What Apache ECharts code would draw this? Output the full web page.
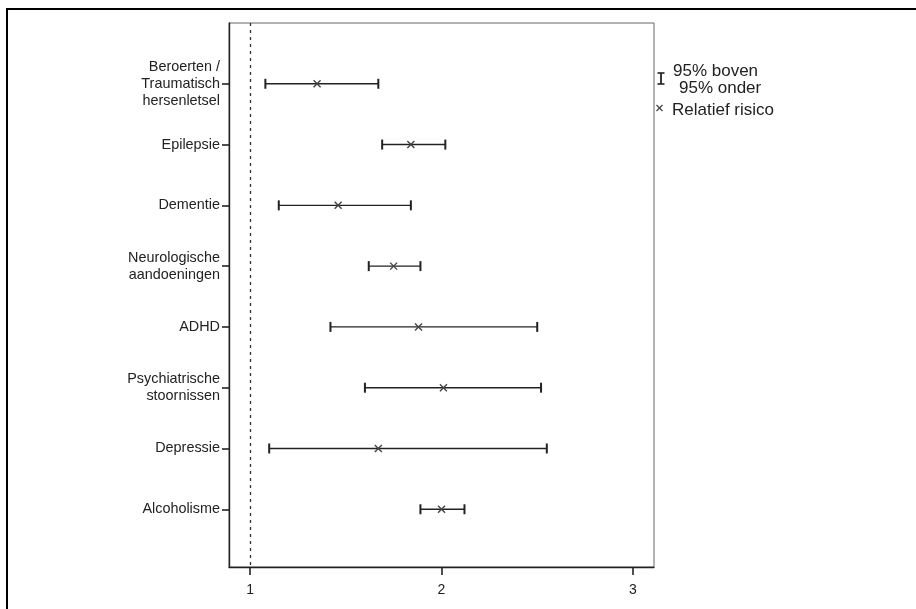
<!DOCTYPE html>
<html>
<head>
<meta charset="utf-8">
<script src="https://cdn.jsdelivr.net/npm/echarts@6/dist/echarts.min.js"></script>
<style>
  html, body { margin: 0; padding: 0; background: #fff; }
  #chart { width: 916px; height: 609px; }
</style>
</head>
<body>
<div id="chart"></div>
<script>
// aandoeningen (van boven naar beneden)
var categories = [
    'Beroerten /\nTraumatisch\nhersenletsel',
    'Epilepsie',
    'Dementie',
    'Neurologische\naandoeningen',
    'ADHD',
    'Psychiatrische\nstoornissen',
    'Depressie',
    'Alcoholisme'
];
// relatief risico en 95% betrouwbaarheidsinterval
var relRisk = [1.35, 1.84, 1.46, 1.75, 1.88, 2.01, 1.67, 2.00];
var lower95 = [1.08, 1.69, 1.15, 1.62, 1.42, 1.60, 1.10, 1.89];
var upper95 = [1.67, 2.02, 1.84, 1.89, 2.50, 2.52, 2.55, 2.12];
var xTicks = [1, 2, 3];

var FONT = '"Liberation Sans", Arial, sans-serif';
var rowPos = categories.map(function (c, i) { return i + 1; });

var chart = echarts.init(document.getElementById('chart'));

function renderBar(params, api) {
    var lo = api.coord([api.value(0), api.value(2)]);
    var hi = api.coord([api.value(1), api.value(2)]);
    var mid = api.coord([api.value(3), api.value(2)]);
    var cap = 5, m = 3.5;
    var line = { stroke: '#222', lineWidth: 1.4 };
    var capStyle = { stroke: '#222', lineWidth: 2 };
    var mark = { stroke: '#444', lineWidth: 1.4 };
    return {
        type: 'group',
        children: [
            { type: 'line', shape: { x1: lo[0], y1: lo[1], x2: hi[0], y2: hi[1] }, style: line },
            { type: 'line', shape: { x1: lo[0], y1: lo[1] - cap, x2: lo[0], y2: lo[1] + cap }, style: capStyle },
            { type: 'line', shape: { x1: hi[0], y1: hi[1] - cap, x2: hi[0], y2: hi[1] + cap }, style: capStyle },
            { type: 'line', shape: { x1: mid[0] - m, y1: mid[1] - m, x2: mid[0] + m, y2: mid[1] + m }, style: mark },
            { type: 'line', shape: { x1: mid[0] - m, y1: mid[1] + m, x2: mid[0] + m, y2: mid[1] - m }, style: mark }
        ]
    };
}

var option = {
    animation: false,
    textStyle: { fontFamily: FONT },
    grid: {
        left: 229, top: 23, right: 262, bottom: 42,
        show: true, borderColor: '#666', borderWidth: 1
    },
    xAxis: {
        type: 'value',
        min: 0.89,
        max: 3.11,
        splitLine: { show: false },
        axisLine: { show: true, onZero: false, lineStyle: { color: '#222', width: 1.4 } },
        axisTick: { show: true, customValues: xTicks, length: 8, lineStyle: { color: '#222', width: 1.6 } },
        axisLabel: { customValues: xTicks, margin: 16, color: '#222', fontSize: 14, fontFamily: FONT }
    },
    yAxis: {
        type: 'value',
        inverse: true,
        min: 0,
        max: 8.95,
        splitLine: { show: false },
        axisLine: { show: true, onZero: false, lineStyle: { color: '#222', width: 1.4 } },
        axisTick: { show: true, customValues: rowPos, length: 7, lineStyle: { color: '#222', width: 1.6 } },
        axisLabel: {
            customValues: rowPos,
            margin: 9,
            color: '#222',
            fontSize: 14.4,
            lineHeight: 17,
            align: 'right',
            fontFamily: FONT,
            formatter: function (v) { return categories[Math.round(v) - 1] || ''; }
        }
    },
    series: [{
        type: 'custom',
        name: 'Relatief risico',
        renderItem: renderBar,
        encode: { x: [0, 1, 3], y: 2 },
        data: categories.map(function (c, i) {
            return [lower95[i], upper95[i], rowPos[i], relRisk[i]];
        }),
        markLine: {
            silent: true,
            symbol: 'none',
            label: { show: false },
            lineStyle: { color: '#333', type: [3, 4], width: 1.3 },
            data: [{ xAxis: 1 }]
        },
        z: 3
    }],
    graphic: [
        // omkadering van de figuur
        { type: 'rect', shape: { x: 7, y: 9, width: 1000, height: 700 }, style: { fill: 'none', stroke: '#000', lineWidth: 2 }, silent: true },
        // legenda
        { type: 'line', shape: { x1: 661, y1: 73, x2: 661, y2: 84 }, style: { stroke: '#222', lineWidth: 1.8 } },
        { type: 'line', shape: { x1: 657.5, y1: 73, x2: 664.5, y2: 73 }, style: { stroke: '#222', lineWidth: 1.6 } },
        { type: 'line', shape: { x1: 657.5, y1: 84, x2: 664.5, y2: 84 }, style: { stroke: '#222', lineWidth: 1.6 } },
        { type: 'text', style: { x: 673, y: 71, text: '95% boven', font: '17px ' + FONT, fill: '#222', verticalAlign: 'middle' } },
        { type: 'text', style: { x: 679, y: 88, text: '95% onder', font: '17px ' + FONT, fill: '#222', verticalAlign: 'middle' } },
        { type: 'line', shape: { x1: 656.5, y1: 105, x2: 662.5, y2: 111 }, style: { stroke: '#444', lineWidth: 1.3 } },
        { type: 'line', shape: { x1: 656.5, y1: 111, x2: 662.5, y2: 105 }, style: { stroke: '#444', lineWidth: 1.3 } },
        { type: 'text', style: { x: 672, y: 110, text: 'Relatief risico', font: '17px ' + FONT, fill: '#222', verticalAlign: 'middle' } }
    ]
};

chart.setOption(option);
</script>
</body>
</html>
